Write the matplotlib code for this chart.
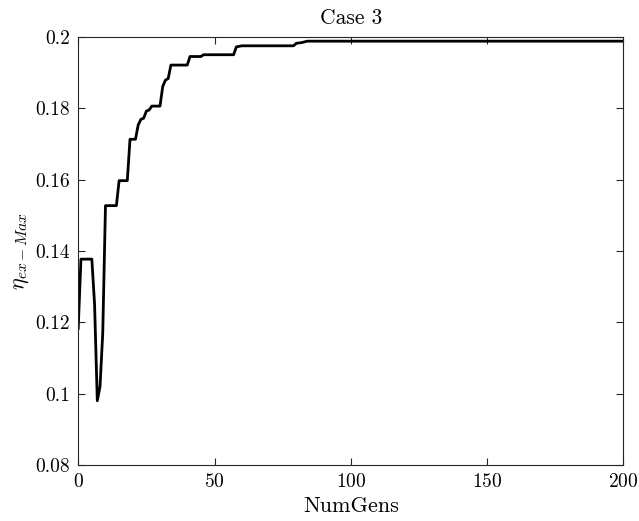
import matplotlib
matplotlib.use("Agg")
import matplotlib.pyplot as plt
from matplotlib.ticker import FuncFormatter

# best-so-far efficiency per generation
gens = [0, 1, 5, 6, 7, 8, 9, 10, 14, 15, 18, 19, 21, 22, 23, 24, 25, 26, 27,
        30, 31, 32, 33, 34, 40, 41, 45, 46, 57, 58, 60, 79, 80, 82, 84, 200]
eta = [0.1183, 0.1377, 0.1377, 0.1250, 0.0980, 0.1020, 0.1170, 0.1527,
       0.1527, 0.1597, 0.1597, 0.1713, 0.1713, 0.1753, 0.1769, 0.1772,
       0.1792, 0.1795, 0.1806, 0.1806, 0.1861, 0.1879, 0.1883, 0.1921,
       0.1921, 0.1945, 0.1945, 0.1950, 0.1950, 0.1972, 0.1975, 0.1975,
       0.1982, 0.1984, 0.1988, 0.1988]

xticks = [0, 50, 100, 150, 200]
yticks = [0.08, 0.1, 0.12, 0.14, 0.16, 0.18, 0.2]

plt.rcParams["font.family"] = "serif"
plt.rcParams["font.serif"] = ["cmr10"]
plt.rcParams["mathtext.fontset"] = "cm"
plt.rcParams["axes.formatter.use_mathtext"] = True

fig = plt.figure(figsize=(6.39, 5.21), dpi=100)
ax = fig.add_axes([0.1224, 0.1075, 0.8533, 0.8217])

ax.plot(gens, eta, color="black", linewidth=2.0)

ax.set_xlim(0, 200)
ax.set_ylim(0.08, 0.2)
ax.set_xticks(xticks)
ax.set_yticks(yticks)
ax.yaxis.set_major_formatter(FuncFormatter(lambda v, p: "%g" % v))

axcol = "#262626"
for s in ax.spines.values():
    s.set_color(axcol)
    s.set_linewidth(0.8)
ax.tick_params(direction="in", top=True, right=True, length=5, width=0.8,
               color=axcol, labelsize=14, labelcolor="black", pad=6)

ax.set_xlabel("NumGens", fontsize=16, labelpad=4)
ax.set_ylabel(r"$\eta_{ex-Max}$", fontsize=16, labelpad=3)
ax.set_title("Case 3", fontsize=15.5, pad=9)

fig.savefig("out.png", dpi=100)
